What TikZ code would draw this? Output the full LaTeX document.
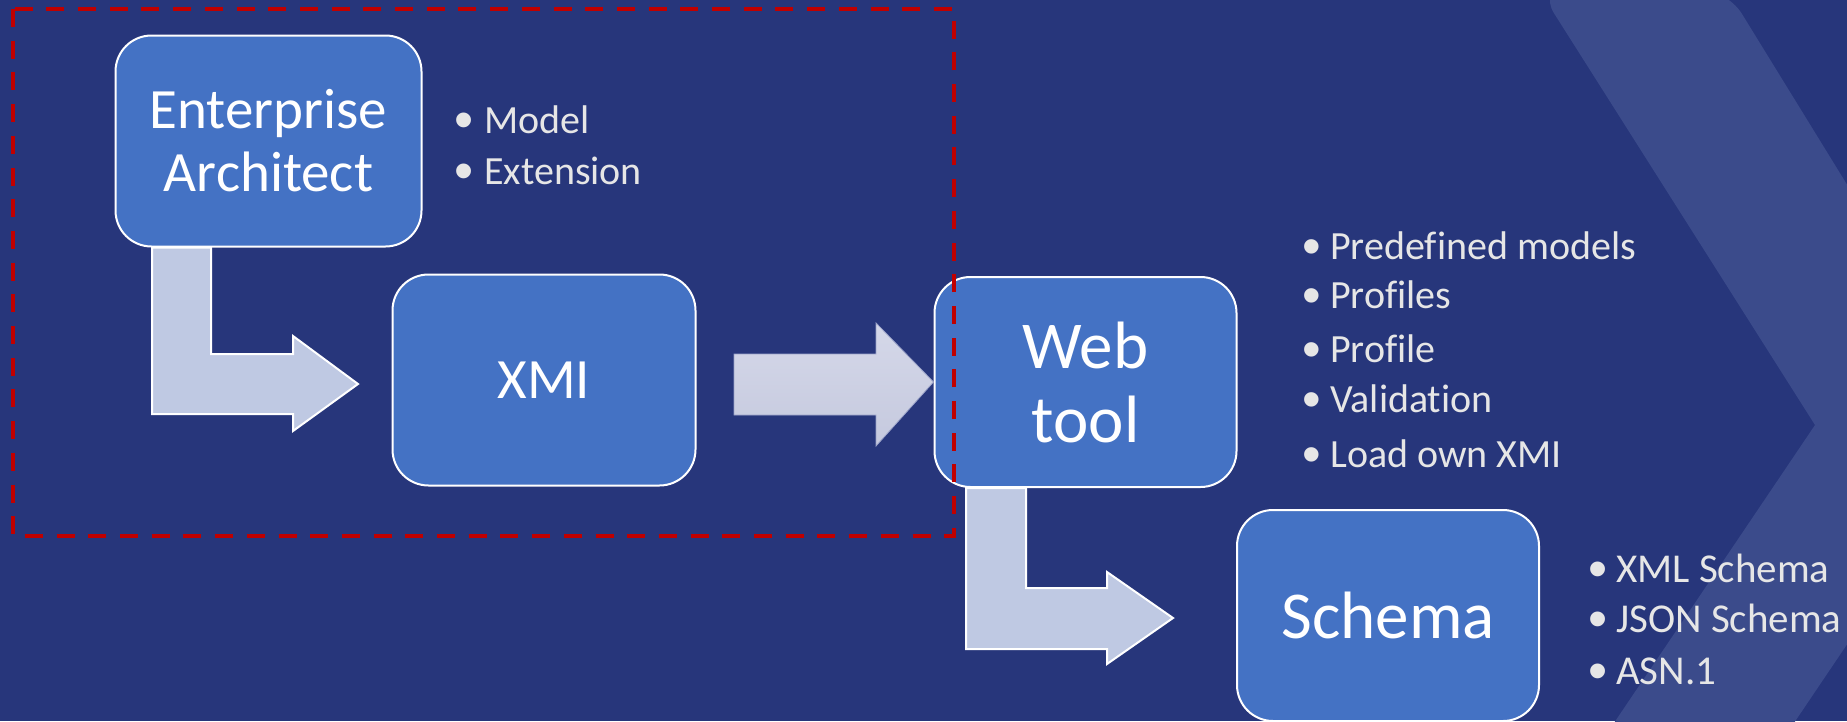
\documentclass[tikz,border=0pt]{standalone}
\usepackage{fontspec}
\setmainfont{Carlito}[Ligatures=NoCommon]
\newfontfamily\bulletfont{Liberation Sans}
\definecolor{bg}{HTML}{27367B}
\definecolor{band}{HTML}{3B4B8B}
\definecolor{boxblue}{HTML}{4472C4}
\definecolor{arrowfill}{HTML}{BFC9E3}
\definecolor{arrowtop}{HTML}{D5D8E9}
\definecolor{arrowbot}{HTML}{C5C9DE}
\definecolor{arrowedge}{HTML}{9AA2C8}
\definecolor{dashred}{HTML}{C00000}
\definecolor{listgray}{HTML}{E6E6E6}
\newcommand{\bigbullet}{\raisebox{-5pt}{\scalebox{1.4}{•}}}
\begin{document}
\begin{tikzpicture}[x=1pt,y=-1pt,
  procbox/.style={draw=white, line width=2pt, fill=boxblue, rounded corners=36pt,
    text=white, align=center, inner sep=0pt},
  larrow/.style={fill=arrowfill, draw=white, line width=2pt, line join=miter},
  listitem/.style={anchor=base west, inner sep=0pt, text=listgray},
  bulletmark/.style={anchor=base west, inner sep=0pt, text=listgray, font=\bulletfont\fontsize{#1}{#1}\selectfont},
  dashframe/.style={draw=dashred, line width=3.5pt, dash pattern=on 18pt off 13.7pt}
]
\useasboundingbox (0,0) rectangle (1847,721);
\fill[bg] (0,0) rectangle (1847,721);
% chevron band
\begin{scope}
\clip (0,0) rectangle (1847,721);
\fill[band] (1815,425) -- (1589,760) -- (1769,760) -- (1995,425)
  [rounded corners=30pt] -- (1726,-12) -- (1538,-12) [sharp corners] -- cycle;
\end{scope}

% boxes
\node[procbox, minimum width=306pt, minimum height=211pt,
  font=\fontsize{57}{63}\selectfont] (ea) at (268.5,141) {Enterprise\\Architect};
\node[procbox, minimum width=303pt, minimum height=211pt,
  font=\fontsize{57}{63}\selectfont] (xmi) at (544,380) {XMI};
\node[procbox, minimum width=302pt, minimum height=210pt,
  font=\fontsize{67}{74}\selectfont] (web) at (1085.5,382) {Web\\tool};
\node[procbox, minimum width=302pt, minimum height=211pt,
  font=\fontsize{67}{74}\selectfont] (schema) at (1388,615.5) {Schema};

% arrows
\draw[larrow] (152,0 |- ea.south) -- (211,0 |- ea.south) -- (211,354) -- (293,354) -- (293,336)
  -- (358,384) -- (293,431) -- (293,414) -- (152,414) -- cycle;
\draw[top color=arrowtop, bottom color=arrowbot, draw=arrowedge, line width=0.8pt]
  (734,354) -- (876,354) -- (876,323) -- (web.west) -- (876,446) -- (876,415) -- (734,415) -- cycle;
\draw[larrow] (966,0 |- web.south) -- (1026,0 |- web.south) -- (1026,588) -- (1107,588) -- (1107,572)
  -- (1173,618) -- (1107,664) -- (1107,649) -- (966,649) -- cycle;

% dashed frame
\draw[dashframe] (13,9) rectangle (954,536);

% lists
\node[bulletmark=39] (b1) at (454,133) {\bigbullet};
\node[listitem, font=\fontsize{40}{40}\selectfont] (l1) at (484,133) {Model};
\node[bulletmark=39] (b2) at (454,184) {\bigbullet};
\node[listitem, font=\fontsize{40}{40}\selectfont] (l2) at (484,184) {Extension};

\node[bulletmark=38] (b3) at (1302,259) {\bigbullet};
\node[listitem, font=\fontsize{40}{40}\selectfont] (w1) at (1330,259) {Predefined models};
\node[bulletmark=38] (b4) at (1302,308) {\bigbullet};
\node[listitem, font=\fontsize{40}{40}\selectfont] (w2) at (1330,308) {Profiles};
\node[bulletmark=38] (b5) at (1302,362) {\bigbullet};
\node[listitem, font=\fontsize{40}{40}\selectfont] (w3) at (1330,362) {Profile};
\node[bulletmark=38] (b6) at (1302,412) {\bigbullet};
\node[listitem, font=\fontsize{40}{40}\selectfont] (w4) at (1330,412) {Validation};
\node[bulletmark=38] (b7) at (1302,467) {\bigbullet};
\node[listitem, font=\fontsize{40}{40}\selectfont] (w5) at (1330,467) {Load own XMI};

\node[bulletmark=39] (b8) at (1588,582) {\bigbullet};
\node[listitem, font=\fontsize{41}{41}\selectfont] (s1) at (1616,582) {XML Schema};
\node[bulletmark=39] (b9) at (1588,632) {\bigbullet};
\node[listitem, font=\fontsize{41}{41}\selectfont] (s2) at (1616,632) {JSON Schema};
\node[bulletmark=39] (b10) at (1588,684) {\bigbullet};
\node[listitem, font=\fontsize{41}{41}\selectfont] (s3) at (1616,684) {ASN.1};
\end{tikzpicture}
\end{document}
